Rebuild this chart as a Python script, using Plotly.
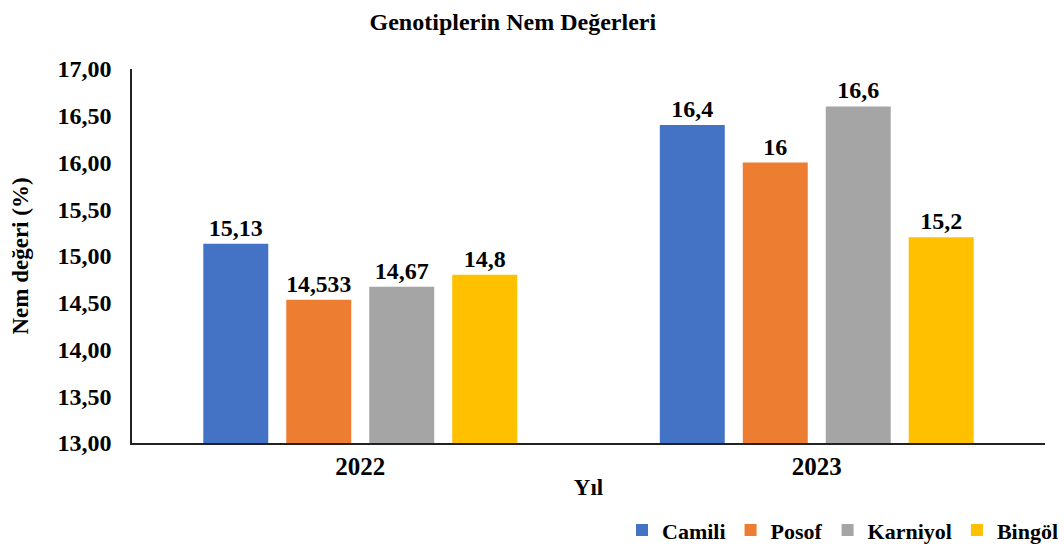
import plotly.graph_objects as go

years = ["2022", "2023"]
series_names = ["Camili", "Posof", "Karniyol", "Bingöl"]
camili = [15.13, 16.4]
posof = [14.533, 16.0]
karniyol = [14.67, 16.6]
bingol = [14.8, 15.2]
colors = ["#4472C4", "#ED7D31", "#A5A5A5", "#FFC000"]
y_ticks = [13.0, 13.5, 14.0, 14.5, 15.0, 15.5, 16.0, 16.5, 17.0]

FONT = "Liberation Serif, Times New Roman, serif"


def f(size):
    return dict(family=FONT, size=size, color="black", weight="bold")


fig = go.Figure()
for name, vals, col in zip(series_names, [camili, posof, karniyol, bingol], colors):
    fig.add_trace(go.Bar(
        x=years, y=vals, name=name, marker=dict(color=col, line=dict(width=0)),
        text=[f"{v:g}".replace(".", ",") for v in vals],
        textposition="outside", cliponaxis=False,
        textfont=f(24),
    ))

fig.update_layout(
    width=1064, height=545,
    margin=dict(l=132, r=19, t=69, b=102, autoexpand=False),
    paper_bgcolor="white", plot_bgcolor="white",
    barmode="group", bargap=0.273, bargroupgap=0.217,
    separators=",.",
    font=dict(family=FONT, color="black", weight="bold"),
    title=dict(text="Genotiplerin Nem Değerleri", x=0.482, xanchor="center",
               yref="container", y=0.96, yanchor="middle", font=f(24)),
    showlegend=True,
    legend=dict(orientation="h", xref="container", x=1.0, xanchor="right",
                yref="container", y=0.027, yanchor="middle",
                font=f(22), itemwidth=30, traceorder="normal"),
)
fig.update_xaxes(
    showline=True, linecolor="#222", linewidth=2, showgrid=False, ticks="",
    tickfont=f(25), automargin=False,
    title=dict(text="Yıl", font=f(23), standoff=0),
)
fig.update_yaxes(
    range=[13, 17], tickvals=y_ticks, tickformat=".2f", showline=True, linecolor="#222",
    linewidth=1.5, showgrid=False, zeroline=False, ticks="", automargin=False,
    tickfont=f(24), ticklabelstandoff=14,
    title=dict(text="Nem değeri (%)", font=f(23), standoff=22),
)

fig.write_html("out.html", config={"displayModeBar": False},
               post_script="document.body.style.margin='0';")
